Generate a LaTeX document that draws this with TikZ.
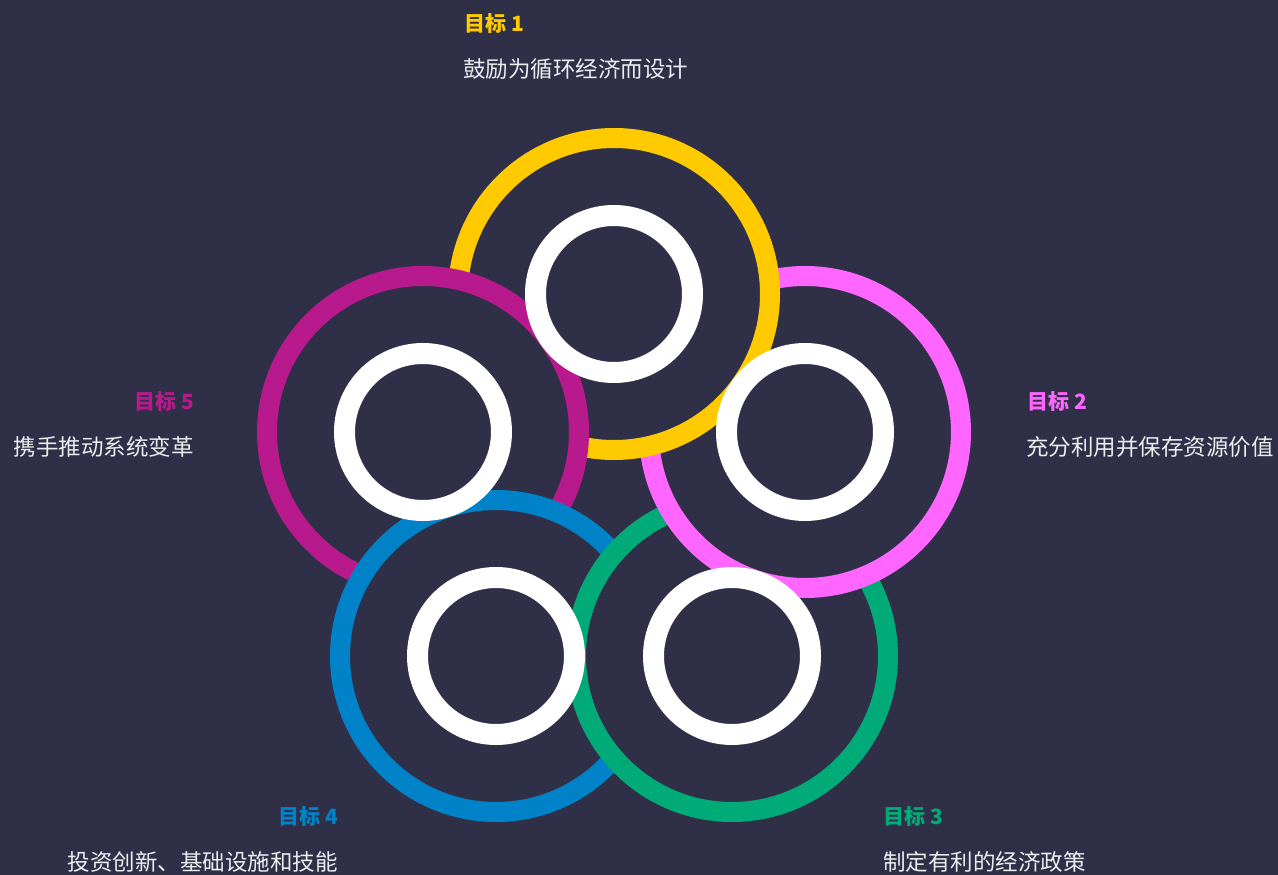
\documentclass[tikz,border=0pt]{standalone}
\usepackage{fontspec}
\newfontfamily\cjk{Noto Sans CJK SC}
\definecolor{bg}{HTML}{2F3047}
\definecolor{cyellow}{HTML}{FFCB00}
\definecolor{cpink}{HTML}{FF66FF}
\definecolor{cpurple}{HTML}{B8198D}
\definecolor{cblue}{HTML}{0082C8}
\definecolor{cgreen}{HTML}{00AB78}
\definecolor{txt}{HTML}{EDEDF0}
\tikzset{
  ring/.style={draw=#1, line width=20pt, fill=bg},
  inner/.style={draw=white, line width=21pt},
  goal/.style={text=#1, font=\cjk\bfseries\fontsize{21}{25}\selectfont, inner sep=0pt},
  desc/.style={text=txt, font=\cjk\fontsize{22.5}{27}\selectfont, inner sep=0pt}
}
\begin{document}
\begin{tikzpicture}[x=1pt,y=-1pt]
\fill[bg] (0,0) rectangle (1278,875);
\useasboundingbox (0,0) rectangle (1278,875);
\coordinate (c1) at (614,294);
\coordinate (c2) at (805,432);
\coordinate (c3) at (732,656);
\coordinate (c4) at (496,656);
\coordinate (c5) at (423,432);
% cyclic interlock: green < pink < yellow < purple < blue < green
\draw[ring=cgreen] (c3) circle[radius=156];
\draw[ring=cpink] (c2) circle[radius=156];
\draw[ring=cyellow] (c1) circle[radius=156];
\draw[ring=cpurple] (c5) circle[radius=156];
\draw[ring=cblue] (c4) circle[radius=156];
\begin{scope}
  \clip (c4) circle[radius=167];
  \draw[ring=cgreen] (c3) circle[radius=156];
\end{scope}
\foreach \c in {c1,c2,c3,c4,c5} \draw[inner] (\c) circle[radius=78.5];
% labels
\node[goal=cyellow, anchor=west] (g1) at (464,24) {目标 1};
\node[desc, anchor=west] (d1) at (463,69) {鼓励为循环经济而设计};
\node[goal=cpink, anchor=west] (g2) at (1027,402) {目标 2};
\node[desc, anchor=west] (d2) at (1026,447) {充分利用并保存资源价值};
\node[goal=cgreen, anchor=west] (g3) at (883,817) {目标 3};
\node[desc, anchor=west] (d3) at (883,862) {制定有利的经济政策};
\node[goal=cblue, anchor=east] (g4) at (338,817) {目标 4};
\node[desc, anchor=east] (d4) at (338,862) {投资创新、基础设施和技能};
\node[goal=cpurple, anchor=east] (g5) at (194,402) {目标 5};
\node[desc, anchor=east] (d5) at (194,447) {携手推动系统变革};
\end{tikzpicture}
\end{document}
